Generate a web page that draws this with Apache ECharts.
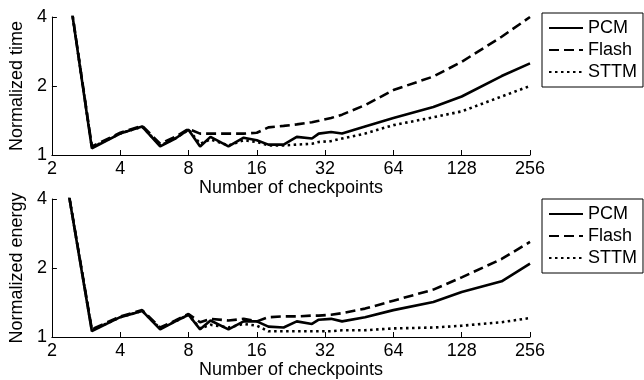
<!DOCTYPE html>
<html>
<head>
<meta charset="utf-8">
<script src="https://cdn.jsdelivr.net/npm/echarts@6/dist/echarts.min.js"></script>
<style>
  html, body { margin: 0; padding: 0; background: #fff; }
  #chart { width: 644px; height: 380px; }
</style>
</head>
<body>
<div id="chart"></div>
<script>
// number of checkpoints (x, log2 axis)
const checkpoints = [2, 3, 4, 5, 6, 7, 8, 9, 10, 12, 14, 16, 18, 21, 24, 28, 30, 34, 38, 48, 64, 96, 128, 192, 256]

// normalized time (top panel)
const timePCM = [16.7, 1.07, 1.24, 1.33, 1.09, 1.18, 1.29, 1.09, 1.20, 1.09, 1.19, 1.16, 1.11, 1.11, 1.20, 1.18, 1.24, 1.26, 1.24, 1.33, 1.45, 1.62, 1.80, 2.21, 2.51]
const timeFlash = [16.7, 1.09, 1.25, 1.34, 1.12, 1.20, 1.30, 1.24, 1.24, 1.24, 1.24, 1.25, 1.32, 1.34, 1.36, 1.39, 1.41, 1.45, 1.50, 1.65, 1.92, 2.20, 2.55, 3.28, 4.0]
const timeSTTM = [16.7, 1.08, 1.24, 1.33, 1.10, 1.18, 1.29, 1.12, 1.17, 1.10, 1.16, 1.14, 1.10, 1.10, 1.11, 1.12, 1.14, 1.15, 1.18, 1.24, 1.35, 1.46, 1.55, 1.80, 2.0]

// normalized energy (bottom panel)
const energyPCM = [11.4, 1.06, 1.22, 1.30, 1.08, 1.17, 1.25, 1.08, 1.18, 1.08, 1.17, 1.17, 1.11, 1.10, 1.17, 1.14, 1.19, 1.20, 1.17, 1.22, 1.31, 1.42, 1.57, 1.75, 2.09]
const energyFlash = [11.4, 1.08, 1.23, 1.31, 1.10, 1.18, 1.26, 1.16, 1.20, 1.18, 1.20, 1.17, 1.22, 1.23, 1.23, 1.24, 1.24, 1.25, 1.27, 1.33, 1.44, 1.61, 1.82, 2.19, 2.60]
const energySTTM = [11.4, 1.07, 1.22, 1.30, 1.09, 1.17, 1.25, 1.09, 1.13, 1.10, 1.14, 1.12, 1.06, 1.06, 1.06, 1.06, 1.06, 1.06, 1.07, 1.07, 1.09, 1.10, 1.12, 1.16, 1.21]

const names = ['PCM', 'Flash', 'STTM']
const dashes = ['solid', [10, 5], [2.5, 3.5]]

const font = 'Liberation Sans, Arial, Helvetica, sans-serif'

function pairs(ys) {
  return checkpoints.map((x, i) => [x, ys[i]])
}

function xAxisFor(idx) {
  return {
    type: 'log',
    logBase: 2,
    gridIndex: idx,
    min: 2,
    max: 256,
    splitNumber: 7,
    name: 'Number of checkpoints',
    nameLocation: 'middle',
    nameGap: 24,
    nameTextStyle: { color: '#000', fontSize: 18, fontFamily: font },
    axisLine: { lineStyle: { color: '#000', width: 1 } },
    axisTick: { inside: true, length: 5, lineStyle: { color: '#000' } },
    axisLabel: {
      color: '#000',
      fontSize: 18,
      fontFamily: font,
      margin: 5,
      formatter: v => String(Math.round(v))
    },
    splitLine: { show: false }
  }
}

function yAxisFor(idx, name) {
  return {
    type: 'log',
    logBase: 2,
    gridIndex: idx,
    min: 1,
    max: 4,
    splitNumber: 2,
    name: name,
    nameLocation: 'middle',
    nameGap: 16,
    nameTextStyle: { color: '#000', fontSize: 18, fontFamily: font },
    axisLine: { show: true, lineStyle: { color: '#000', width: 1 } },
    axisTick: { inside: true, length: 5, lineStyle: { color: '#000' } },
    axisLabel: {
      color: '#000',
      fontSize: 18,
      fontFamily: font,
      margin: 5,
      formatter: v => String(Math.round(v))
    },
    splitLine: { show: false }
  }
}

function legendFor(top) {
  return {
    orient: 'vertical',
    left: 542,
    top: top,
    data: names,
    itemWidth: 34,
    itemHeight: 18,
    itemGap: 4,
    padding: [6, 6, 6, 6],
    borderColor: '#000',
    borderWidth: 1,
    backgroundColor: '#fff',
    itemStyle: { color: 'rgba(0,0,0,0)', borderWidth: 0 },
    textStyle: { color: '#000', fontSize: 18, fontFamily: font, lineHeight: 18 }
  }
}

function seriesFor(idx, data) {
  return data.map((ys, i) => ({
    name: names[i],
    type: 'line',
    xAxisIndex: idx,
    yAxisIndex: idx,
    data: pairs(ys),
    symbol: 'none',
    clip: true,
    lineStyle: { color: '#000', width: 2.6, type: dashes[i], cap: 'butt' },
    itemStyle: { color: '#000' },
    z: 3 - i
  }))
}

const chart = echarts.init(document.getElementById('chart'))
chart.setOption({
  animation: false,
  backgroundColor: '#fff',
  grid: [
    { left: 49, right: 114, top: 17, height: 138 },
    { left: 49, right: 114, top: 199, height: 138 }
  ],
  legend: [legendFor(13), legendFor(199)],
  xAxis: [xAxisFor(0), xAxisFor(1)],
  yAxis: [yAxisFor(0, 'Normalized time'), yAxisFor(1, 'Normalized energy')],
  series: [
    ...seriesFor(0, [timePCM, timeFlash, timeSTTM]),
    ...seriesFor(1, [energyPCM, energyFlash, energySTTM])
  ]
})
</script>
</body>
</html>
